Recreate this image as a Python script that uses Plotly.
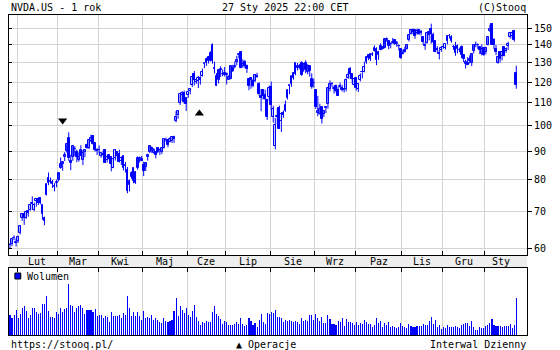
import math
import pandas as pd
import plotly.graph_objects as go

# ---------------- data (NVDA.US, daily, split-adjusted) ----------------
holidays = ["2024-02-19", "2024-03-29", "2024-05-27", "2024-06-19", "2024-07-04",
            "2024-09-02", "2024-11-28", "2024-12-25", "2025-01-01", "2025-01-09", "2025-01-20"]
dates = pd.bdate_range("2024-01-26", "2025-01-27", freq="C", holidays=holidays)

opens = [
    60.9, 61.2, 62.9, 61.7,
    62.1, 63.97, 68.2, 69.3, 68.3, 70.1, 70.5, 72.6, 70.4, 73.2, 73.9, 74.1, 71.9, 68.1, 75.0, 80.7, 79.7, 79.3, 77.7, 79.0,
    80.0, 84.1, 85.2, 88.0, 90.2, 95.1, 86.5, 88.0, 91.0, 89.6, 86.9, 90.3, 86.7, 89.8, 92.3, 91.1, 93.9, 95.85, 93.0, 90.0,
    90.3, 88.4, 88.5, 90.4, 86.8, 88.7, 88.0, 83.9, 87.4, 89.7, 89.0, 86.4, 88.3, 84.9, 83.1, 78.1, 80.8, 83.9, 78.9, 83.8, 87.5, 87.3,
    85.0, 84.4, 87.8, 89.6, 91.1, 89.5, 89.6, 91.2, 90.4, 89.8, 91.3, 94.5, 94.3, 93.6, 93.8, 95.4, 102.0, 104.5, 110.2, 113.5, 114.7, 112.5,
    113.6, 115.7, 118.4, 124.1, 119.8, 120.4, 121.8, 123.1, 129.4, 129.96, 132.99, 131.1, 139.8, 127.1, 123.2, 121.2, 126.1, 124.1, 124.6,
    123.5, 121.1, 121.7, 127.4, 127.5, 130.4, 134.0, 135.8, 128.3, 130.6, 128.4, 121.4, 121.9, 120.4, 120.4, 122.8, 119.2, 113.0, 116.2, 113.7, 111.5, 112.9,
    117.5, 103.8, 92.1, 103.8, 107.8, 102.0, 105.6, 106.3, 112.4, 118.5, 118.8, 121.9, 124.3, 128.4, 127.3, 130.0, 125.9, 129.6, 125.1, 128.1, 121.4, 119.5,
    116.0, 105.4, 104.99, 108.0, 104.9, 107.8, 109.4, 116.8, 119.1, 116.8, 118.2, 115.9, 117.35, 117.1, 116.6, 116.5, 122.0, 126.8, 123.97, 118.3,
    121.8, 116.4, 120.9, 124.94, 124.99, 130.3, 134.1, 131.9, 134.0, 136.5, 137.9, 133.98, 139.3, 138.7, 138.1, 142.9, 142.0, 140.8, 140.9, 143.0, 140.3, 139.5, 137.6,
    134.7, 137.2, 137.45, 142.96, 146.4, 148.8, 148.7, 146.8, 149.1, 147.6, 144.9, 139.5, 141.3, 147.4, 149.35, 145.9, 141.99, 137.7, 135.0, 136.8,
    138.8, 138.3, 142.0, 145.11, 144.6, 138.97, 139.0, 137.4, 137.1, 138.9, 134.2, 129.1, 129.99, 131.8, 129.8, 136.3, 140.0, 139.7, 138.55, 134.8, 138.0,
    136.0, 140.0, 148.6, 153.0, 142.6, 137.45, 129.99, 136.05, 133.65, 138.6, 136.7, 139.2, 144.7, 145.05, 148.4, 124.8,
]
highs = [
    61.5, 62.5, 63.5, 62.7,
    63.4, 66.2, 69.4, 69.5, 70.0, 70.3, 72.1, 74.6, 72.7, 74.0, 74.0, 74.3, 72.0, 68.6, 78.5, 82.4, 80.7, 79.9, 78.9, 80.0,
    82.3, 87.7, 86.1, 89.7, 92.7, 97.4, 88.7, 92.0, 91.9, 90.6, 89.6, 92.3, 90.5, 90.5, 92.9, 94.7, 96.4, 96.3, 93.2, 91.2,
    92.2, 89.4, 90.3, 90.6, 88.4, 88.8, 88.0, 87.6, 90.7, 90.1, 90.6, 88.1, 88.3, 86.1, 84.3, 80.0, 82.8, 84.0, 82.8, 88.1, 88.0, 88.3,
    86.2, 85.9, 89.1, 92.2, 91.8, 91.2, 89.9, 91.6, 91.0, 91.3, 94.6, 95.3, 94.5, 95.4, 95.4, 96.0, 106.3, 106.5, 114.0, 115.5, 115.8, 112.7,
    115.0, 116.6, 122.4, 125.6, 121.7, 123.1, 122.9, 126.9, 129.8, 132.8, 133.7, 136.3, 140.8, 130.6, 124.5, 126.5, 128.1, 126.4, 127.7,
    124.8, 123.4, 128.3, 128.9, 130.8, 133.8, 135.1, 136.2, 131.9, 131.4, 129.0, 121.6, 122.4, 121.6, 124.1, 124.7, 119.9, 116.6, 116.2, 116.3, 111.99, 118.3,
    120.2, 108.7, 103.4, 107.7, 108.8, 105.5, 106.6, 111.1, 116.2, 118.6, 123.0, 125.0, 130.0, 129.9, 129.4, 130.8, 129.6, 131.3, 129.2, 128.3, 124.4, 121.75,
    116.2, 113.3, 109.65, 108.15, 106.55, 108.4, 117.2, 120.8, 119.96, 118.2, 118.8, 117.7, 119.7, 118.6, 116.99, 121.8, 124.9, 127.7, 124.0, 121.5,
    122.4, 119.4, 124.4, 125.0, 130.6, 133.5, 134.5, 135.0, 135.8, 139.6, 138.6, 136.6, 140.9, 138.9, 143.7, 144.4, 142.4, 141.4, 144.1, 143.1, 142.3, 140.3, 137.6,
    137.3, 138.96, 140.4, 146.5, 148.9, 149.8, 148.85, 149.7, 149.3, 149.0, 145.2, 141.55, 147.1, 147.6, 152.9, 147.2, 142.05, 139.3, 137.2, 139.35,
    140.45, 140.3, 145.8, 146.5, 145.7, 139.95, 141.8, 140.2, 138.4, 139.6, 134.4, 131.6, 133.0, 134.0, 135.3, 139.8, 141.9, 140.85, 139.0, 140.3, 138.1,
    138.9, 144.9, 152.2, 153.1, 143.95, 139.9, 133.5, 136.4, 136.45, 138.75, 138.5, 141.8, 147.8, 147.2, 148.97, 128.4,
]
lows = [
    60.0, 60.7, 62.2, 60.6,
    61.5, 63.7, 67.4, 66.3, 68.0, 68.6, 70.3, 70.6, 70.2, 71.5, 72.0, 72.2, 67.7, 66.2, 74.9, 78.2, 78.7, 77.3, 76.2, 77.5,
    79.4, 83.7, 83.0, 86.4, 89.6, 86.5, 83.2, 86.5, 88.1, 86.0, 86.2, 88.4, 85.0, 87.8, 90.9, 90.8, 93.4, 92.5, 89.9, 88.6,
    89.2, 87.6, 88.1, 85.9, 85.9, 86.8, 82.8, 83.9, 86.6, 87.3, 85.9, 85.0, 83.1, 82.4, 75.6, 76.2, 80.3, 78.8, 78.6, 83.4, 85.9, 86.4,
    81.2, 82.9, 86.6, 89.3, 89.4, 89.1, 87.4, 89.3, 88.6, 89.0, 91.0, 93.7, 91.5, 93.4, 93.2, 93.2, 101.5, 103.0, 109.0, 110.9, 109.7, 106.4,
    112.3, 114.0, 117.5, 118.3, 119.1, 117.0, 118.7, 122.7, 127.1, 128.3, 129.6, 130.7, 129.5, 124.3, 118.0, 119.3, 122.6, 122.9, 122.8,
    118.8, 121.0, 121.4, 125.1, 127.0, 128.6, 132.4, 127.0, 127.2, 127.2, 124.6, 116.0, 116.7, 117.4, 119.9, 122.1, 113.4, 106.3, 111.6, 111.3, 102.5, 110.9,
    106.8, 101.4, 90.7, 100.6, 98.7, 97.5, 103.4, 106.0, 111.6, 114.1, 117.7, 121.2, 123.4, 125.9, 126.5, 123.1, 125.2, 124.4, 123.9, 122.6, 116.7, 117.2,
    107.3, 104.1, 104.8, 100.95, 103.7, 105.4, 107.4, 115.4, 117.6, 114.4, 114.8, 113.2, 117.25, 115.4, 114.9, 115.4, 121.6, 121.8, 119.3, 118.2,
    115.8, 115.1, 120.3, 121.8, 124.95, 129.4, 131.4, 131.0, 133.7, 136.3, 128.7, 131.6, 136.9, 137.3, 138.0, 141.8, 137.5, 138.0, 140.8, 140.05, 138.9, 136.8, 132.1,
    134.6, 135.6, 137.3, 141.96, 146.2, 146.3, 143.6, 146.0, 145.9, 145.55, 140.1, 137.15, 140.8, 142.7, 140.7, 141.1, 135.8, 135.67, 131.8, 136.05,
    137.8, 137.3, 140.3, 143.7, 141.3, 137.1, 133.8, 135.2, 135.8, 132.5, 130.4, 126.9, 128.7, 129.55, 128.2, 135.1, 138.65, 137.7, 134.7, 134.0, 133.8,
    134.6, 139.7, 147.8, 140.0, 137.6, 134.2, 129.5, 130.05, 131.3, 133.5, 135.5, 137.1, 143.7, 143.7, 141.9, 116.7,
]
closes = [
    61.0, 62.4, 62.7, 61.5,
    63.0, 66.1, 69.3, 68.2, 70.0, 69.6, 72.1, 72.2, 72.1, 73.9, 72.6, 72.6, 69.4, 67.5, 78.5, 78.8, 79.1, 78.7, 77.7, 79.1,
    82.3, 85.2, 86.0, 88.7, 92.7, 87.5, 85.8, 91.9, 90.9, 87.9, 87.8, 88.4, 89.4, 90.4, 91.4, 94.3, 95.0, 92.6, 90.3, 90.4,
    90.3, 89.4, 88.9, 85.9, 88.0, 87.1, 85.3, 87.0, 90.6, 88.2, 86.0, 87.4, 84.0, 84.6, 76.2, 79.5, 82.4, 79.6, 82.6, 87.7, 87.7, 86.4,
    83.0, 85.8, 88.8, 92.1, 90.6, 90.4, 88.7, 89.9, 90.4, 91.3, 94.6, 94.4, 92.5, 94.8, 95.4, 94.9, 103.8, 106.5, 114.0, 114.8, 110.5, 109.6,
    115.0, 116.4, 122.4, 120.9, 120.9, 121.8, 120.9, 125.2, 129.6, 131.9, 130.98, 135.6, 130.8, 126.6, 118.1, 126.1, 126.4, 124.0, 123.5,
    124.3, 122.7, 128.3, 125.8, 128.2, 131.4, 134.9, 127.4, 129.2, 128.4, 126.4, 118.0, 121.1, 118.0, 123.5, 122.6, 114.2, 112.3, 113.1, 111.6, 103.7, 117.0,
    109.2, 107.3, 100.45, 104.25, 98.9, 104.97, 104.75, 109.0, 116.1, 118.1, 122.9, 124.6, 130.0, 127.25, 128.5, 123.7, 129.4, 126.5, 128.3, 125.6, 117.6, 119.4,
    108.0, 106.2, 107.2, 102.8, 106.5, 108.1, 116.9, 119.1, 119.1, 116.8, 115.6, 113.4, 117.9, 116.0, 116.3, 120.9, 123.5, 124.0, 121.4, 121.4,
    117.0, 118.85, 122.85, 124.92, 127.7, 132.9, 132.65, 134.8, 134.8, 138.1, 131.6, 135.7, 136.9, 137.7, 143.7, 143.6, 139.6, 140.4, 141.5, 140.5, 141.25, 139.3, 132.8,
    135.4, 136.05, 139.9, 145.6, 148.9, 147.6, 145.3, 148.3, 146.3, 146.8, 141.98, 140.15, 147.0, 145.9, 146.7, 141.95, 136.0, 136.9, 135.3, 138.25,
    138.6, 140.3, 145.1, 145.06, 142.4, 138.8, 135.1, 139.3, 137.3, 134.25, 132.0, 130.4, 128.9, 130.7, 134.7, 139.7, 140.2, 139.9, 137.0, 137.5, 134.3,
    138.3, 144.5, 149.4, 140.1, 140.1, 135.9, 133.2, 131.8, 136.2, 133.6, 137.7, 140.8, 147.1, 147.2, 142.6, 118.4,
]
volumes = [  # millions of shares
    452, 371, 458, 556,
    370, 476, 609, 644, 532, 377, 452, 613, 602, 505, 461, 495, 702, 690, 865, 546, 397, 393, 390, 508,
    479, 615, 520, 585, 608, 1142, 679, 656, 517, 601, 641, 665, 598, 479, 556, 555, 552, 513, 586, 435,
    452, 437, 370, 434, 400, 282, 506, 431, 431, 427, 440, 373, 496, 447, 875, 596, 430, 516, 423, 512, 425, 327,
    546, 373, 398, 375, 437, 325, 378, 335, 287, 271, 371, 317, 296, 318, 328, 548, 835, 429, 652, 557, 487, 613,
    438, 403, 528, 664, 412, 314, 222, 299, 260, 309, 288, 294, 517, 655, 476, 425, 362, 252, 315,
    284, 218, 215, 214, 237, 285, 249, 374, 253, 209, 214, 390, 320, 217, 258, 173, 327, 460, 293, 248, 486, 473,
    523, 482, 552, 409, 411, 391, 290, 325, 312, 339, 318, 302, 318, 300, 257, 376, 323, 331, 303, 448, 453, 333,
    477, 372, 306, 413, 273, 268, 441, 368, 238, 248, 231, 310, 293, 382, 206, 354, 284, 302, 271, 227,
    302, 221, 277, 244, 346, 285, 246, 242, 170, 232, 377, 264, 306, 176, 264, 226, 285, 172, 205, 173, 157, 179, 270,
    207, 187, 160, 242, 207, 175, 182, 198, 191, 194, 250, 221, 227, 309, 400, 236, 344, 190, 226, 141,
    171, 164, 231, 172, 188, 189, 210, 184, 159, 231, 237, 259, 277, 209, 306, 177, 105, 116, 171, 167, 155,
    198, 229, 265, 351, 227, 207, 204, 196, 185, 209, 201, 197, 237, 155, 234, 818,
]
month_names = ["Sty", "Lut", "Mar", "Kwi", "Maj", "Cze", "Lip", "Sie", "Wrz", "Paz", "Lis", "Gru"]
y_ticks = [60, 70, 80, 90, 100, 110, 120, 130, 140, 150]
operations = [("2024-03-05", "down"), ("2024-06-10", "up")]

assert len(dates) == len(opens) == len(highs) == len(lows) == len(closes) == len(volumes)

# ---------------- layout helpers ----------------
W, H = 560, 350
L, R, T, B = 8, 24, 15, 15
PW, PH = W - L - R, H - T - B
def px(x):
    return (x - L) / PW
def py(y):
    return (H - B - y) / PH

idx = list(range(len(dates)))
month_starts = [i for i in idx if i == 0 or dates[i].month != dates[i - 1].month][1:]
month_bounds = [-0.5] + [m - 0.5 for m in month_starts] + [len(dates) - 0.5]
xmax = 255.3

FONT = "DejaVu Sans Mono"
BLUE = "#0000ff"
GRID = "#d4d4d4"

fig = go.Figure()

# wicks
wx, wy = [], []
for i in idx:
    wx += [i, i, None]
    wy += [lows[i], highs[i], None]
fig.add_trace(go.Scatter(x=wx, y=wy, mode="lines", line=dict(color=BLUE, width=1),
                         xaxis="x", yaxis="y", showlegend=False, hoverinfo="skip"))

# bodies
up = [i for i in idx if closes[i] >= opens[i]]
dn = [i for i in idx if closes[i] < opens[i]]
def body(ids):
    base = [min(opens[i], closes[i]) for i in ids]
    hgt = [max(abs(closes[i] - opens[i]), 0.08) for i in ids]
    return base, hgt
b_up, h_up = body(up)
b_dn, h_dn = body(dn)
fig.add_trace(go.Bar(x=up, y=h_up, base=b_up, width=0.9,
                     marker=dict(color="white", line=dict(color=BLUE, width=1)),
                     xaxis="x", yaxis="y", showlegend=False, hoverinfo="skip"))
fig.add_trace(go.Bar(x=dn, y=h_dn, base=b_dn, width=0.9,
                     marker=dict(color=BLUE, line=dict(color=BLUE, width=1)),
                     xaxis="x", yaxis="y", showlegend=False, hoverinfo="skip"))

# volume (thin bars -> Plotly expands them to one full pixel)
fig.add_trace(go.Bar(x=idx, y=volumes, width=0.05,
                     marker=dict(color=BLUE, line=dict(width=0, color=BLUE)),
                     xaxis="x2", yaxis="y2", showlegend=False, hoverinfo="skip"))

# operation markers
pos = {d.strftime("%Y-%m-%d"): i for i, d in enumerate(dates)}
for d, kind in operations:
    i = pos[d]
    if kind == "down":
        fig.add_trace(go.Scatter(x=[i], y=[highs[i] * 1.188], mode="markers",
                                 marker=dict(symbol="triangle-down", size=8, color="black"),
                                 xaxis="x", yaxis="y", showlegend=False, hoverinfo="skip"))
    else:
        fig.add_trace(go.Scatter(x=[i + 0.5], y=[lows[i] * 0.9], mode="markers",
                                 marker=dict(symbol="triangle-up", size=8, color="black"),
                                 xaxis="x", yaxis="y", showlegend=False, hoverinfo="skip"))

fig.add_trace(go.Scatter(x=[None], y=[None], xaxis="x", yaxis="y3", showlegend=False))

main_dom = [py(255), 1.0]
vol_dom = [0.0, py(268)]
tickv = [m - 0.5 for m in month_starts]

fig.update_layout(
    width=W, height=H, margin=dict(l=L, r=R, t=T, b=B),
    paper_bgcolor="white", plot_bgcolor="white",
    barmode="overlay", bargap=0, showlegend=False,
    font=dict(family=FONT, size=10, color="black"),
    xaxis=dict(domain=[0, 1], range=[-0.5, xmax], anchor="y", tickvals=tickv,
               showticklabels=False, ticks="inside", ticklen=4, tickcolor="black",
               showgrid=True, gridcolor=GRID, gridwidth=1, zeroline=False,
               showline=True, linecolor="black", linewidth=1, mirror=True),
    yaxis=dict(domain=main_dom, type="log", range=[math.log10(58.5), math.log10(158.5)],
               side="right", anchor="x", tickvals=y_ticks, ticktext=[str(v) for v in y_ticks],
               ticks="outside", ticklen=4, tickcolor="black",
               tickfont=dict(family=FONT, size=10, color="black"),
               showgrid=True, gridcolor=GRID, gridwidth=1, zeroline=False,
               showline=True, linecolor="black", linewidth=1, mirror=True),
    yaxis3=dict(overlaying="y", matches="y", type="log", side="left", anchor="x",
                tickvals=y_ticks, ticks="inside", ticklen=3, tickcolor="black",
                showticklabels=False, showgrid=False, zeroline=False, showline=False),
    xaxis2=dict(domain=[0, 1], range=[-0.5, xmax], anchor="y2", side="top", tickvals=tickv,
                showticklabels=False, ticks="inside", ticklen=4, tickcolor="black",
                showgrid=True, gridcolor=GRID, gridwidth=1, zeroline=False,
                showline=True, linecolor="black", linewidth=1, mirror=True),
    yaxis2=dict(domain=vol_dom, range=[0, 1500], anchor="x2", showticklabels=False,
                ticks="", showgrid=False, zeroline=False,
                showline=True, linecolor="black", linewidth=1, mirror=True),
)

shapes = [
    dict(type="rect", xref="paper", yref="paper", x0=0, x1=1, y0=vol_dom[1], y1=main_dom[0],
         fillcolor="#eeeeee", line=dict(width=0), layer="below"),
    dict(type="rect", xref="paper", yref="paper", x0=px(14), x1=px(20), y0=py(279), y1=py(273),
         fillcolor=BLUE, line=dict(color="black", width=1)),
]
fig.update_layout(shapes=shapes)

ann = []
def text(x, y, s, anchor="left"):
    ann.append(dict(x=px(x), y=py(y), xref="paper", yref="paper", text=s, showarrow=False,
                    xanchor=anchor, yanchor="middle", font=dict(family=FONT, size=10, color="black")))

text(8, 7, "NVDA.US - 1 rok")
text(289, 7, "27 Sty 2025 22:00 CET", "center")
text(537, 7, "(C)Stooq", "right")
text(8, 344, "https://stooq.pl/")
text(270, 344, "▲ Operacje", "center")
text(537, 344, "Interwal Dzienny", "right")
text(24, 276, "Wolumen")

for a, b in zip(month_bounds[1:-1], month_bounds[2:]):
    m = dates[int(a + 0.5)].month
    ann.append(dict(x=(a + min(b, xmax)) / 2, y=(main_dom[0] + vol_dom[1]) / 2, xref="x", yref="paper",
                    text=month_names[m - 1], showarrow=False, xanchor="center", yanchor="middle",
                    font=dict(family=FONT, size=10, color="black")))
fig.update_layout(annotations=ann)

fig.write_html("out.html")
